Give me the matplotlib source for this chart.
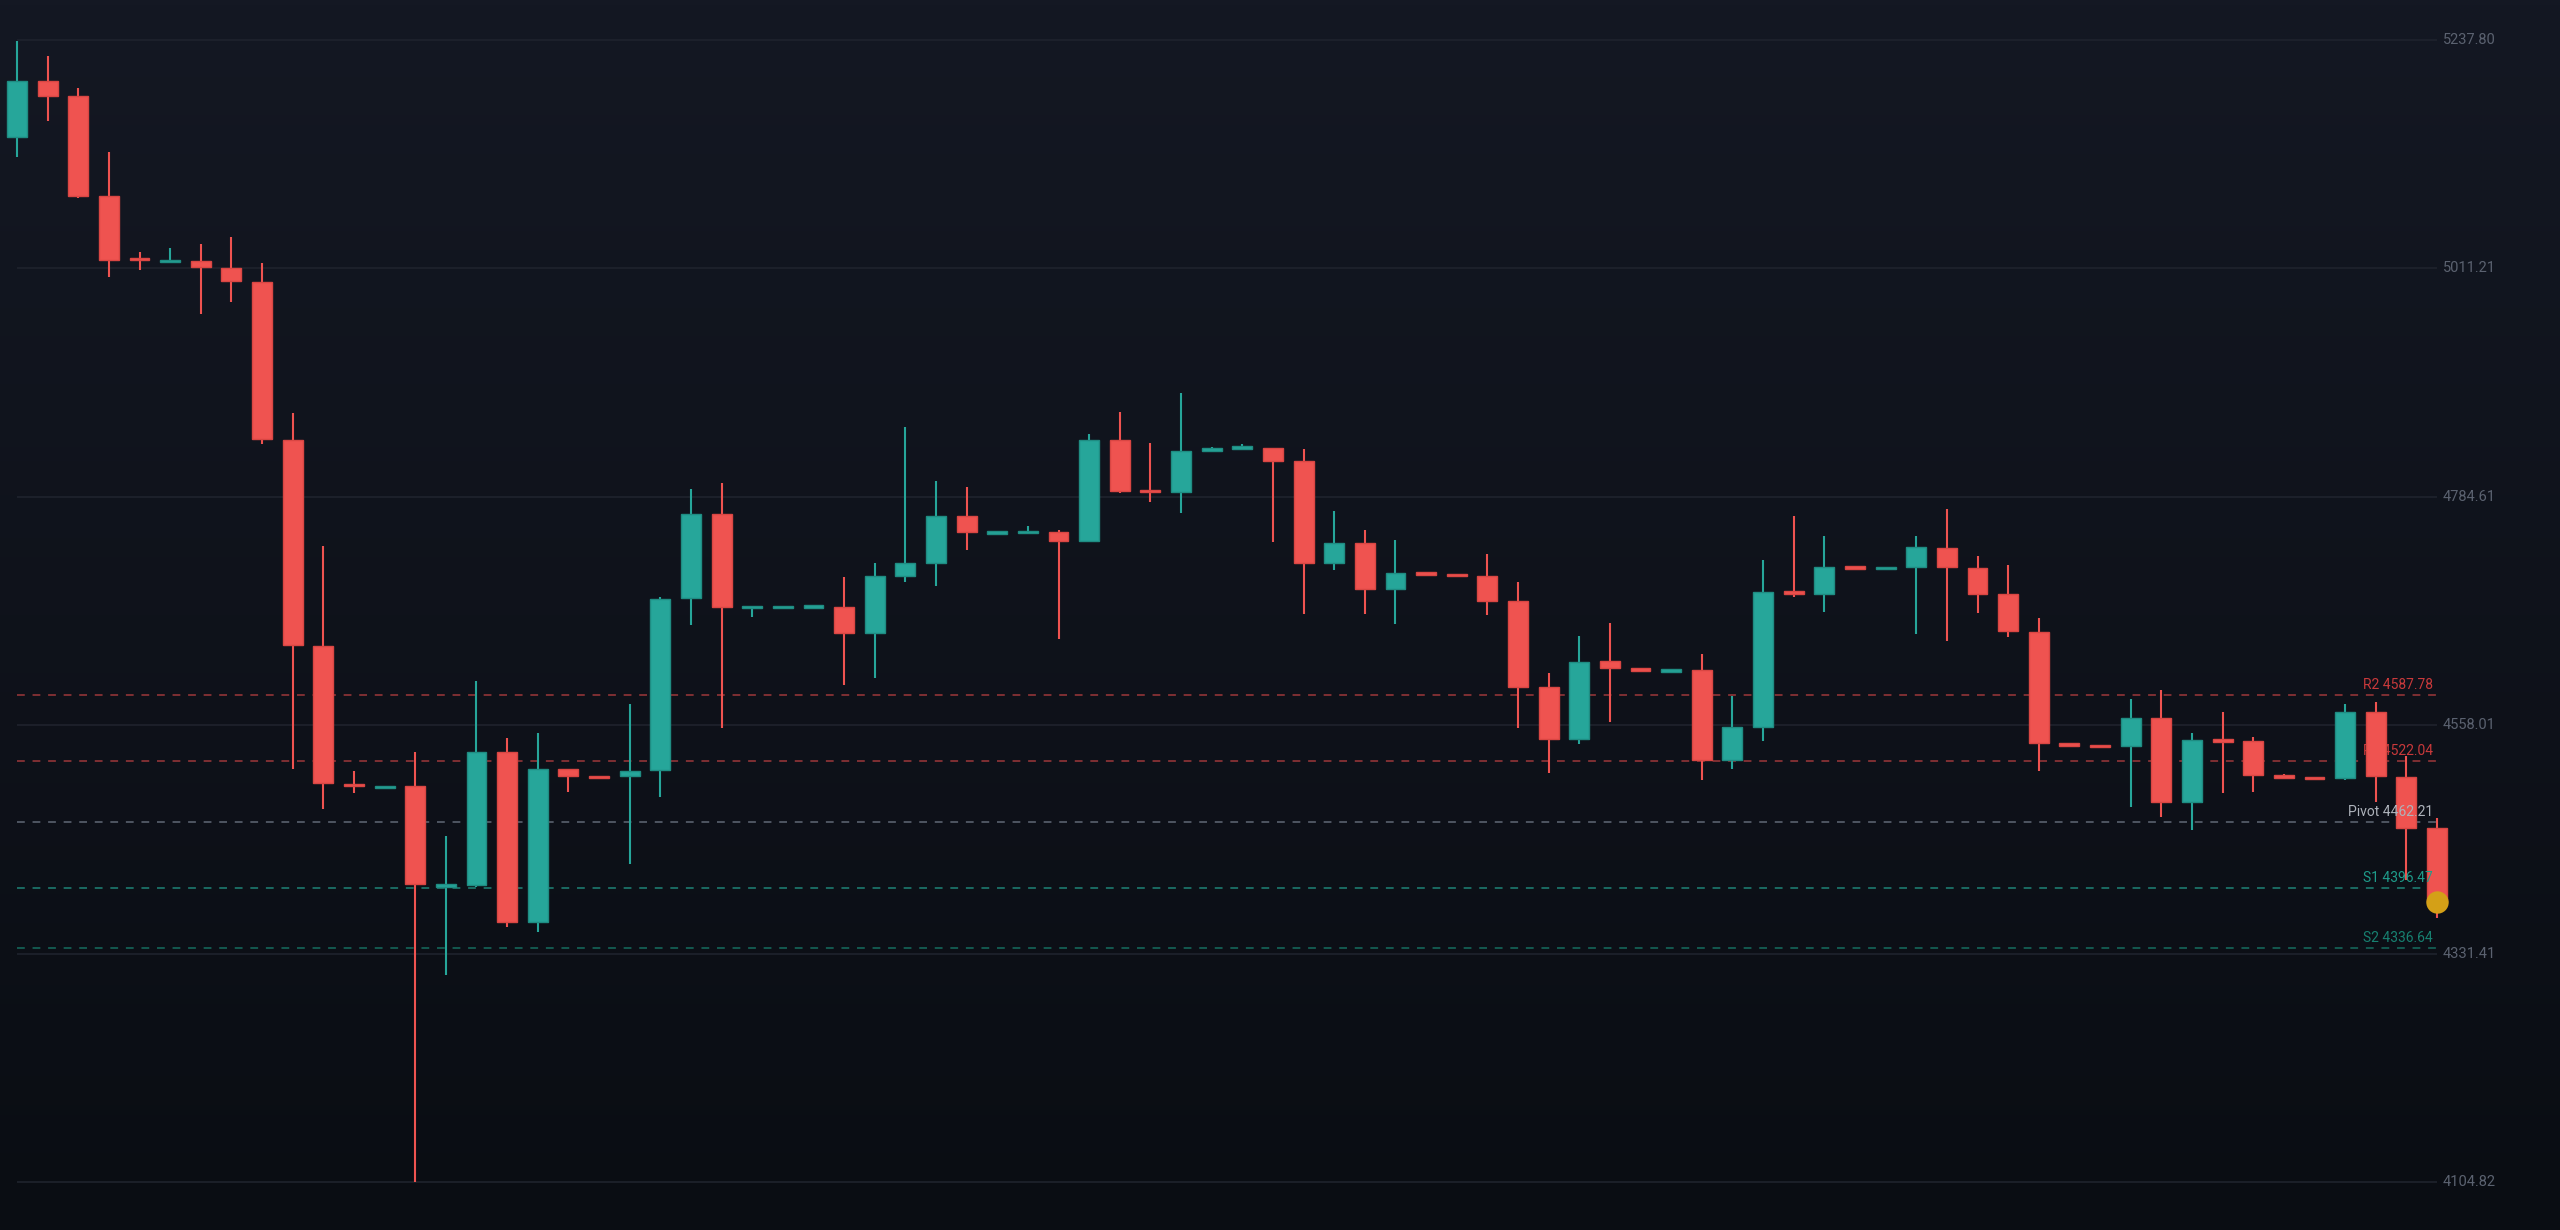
import matplotlib
matplotlib.use("Agg")
import matplotlib.pyplot as plt
import numpy as np
from matplotlib.colors import LinearSegmentedColormap

# candle data (oldest -> newest)
opens = [5141.6, 5197.1, 5182.2, 5082.7, 5021.8, 5018.3, 5018.8, 5011.6, 4997.6, 4841.3,
         4637.0, 4499.5, 4496.6, 4497.4, 4398.5, 4399.8, 4531.2, 4362.6, 4514.3, 4507.2,
         4507.7, 4513.6, 4684.0, 4767.3, 4675.0, 4675.3, 4675.4, 4675.6, 4649.5, 4706.0,
         4719.3, 4765.6, 4749.2, 4749.3, 4749.4, 4740.5, 4840.6, 4790.8, 4789.1, 4830.0,
         4833.5, 4833.3, 4819.8, 4719.3, 4739.1, 4693.2, 4708.7, 4707.5, 4706.3, 4680.9,
         4595.9, 4544.0, 4621.7, 4613.6, 4612.0, 4612.7, 4523.4, 4556.6, 4690.2, 4687.9,
         4715.0, 4713.5, 4715.3, 4734.1, 4714.3, 4687.9, 4650.8, 4539.0, 4537.8, 4537.4,
         4565.5, 4482.2, 4543.3, 4542.4, 4508.0, 4506.2, 4505.6, 4570.8, 4507.0, 4455.8]
highs = [5236.8, 5222.2, 5189.9, 5127.0, 5027.8, 5031.5, 5035.7, 5042.1, 5016.4, 4867.5,
         4735.4, 4512.5, 4497.2, 4531.6, 4448.4, 4601.9, 4545.7, 4550.4, 4514.8, 4507.5,
         4578.6, 4685.0, 4792.0, 4798.1, 4676.0, 4676.0, 4676.0, 4705.0, 4719.0, 4854.2,
         4800.0, 4794.3, 4750.0, 4755.6, 4752.0, 4846.5, 4868.8, 4837.7, 4887.3, 4834.0,
         4836.7, 4833.5, 4832.3, 4770.5, 4752.0, 4741.8, 4709.0, 4707.8, 4727.9, 4700.4,
         4609.5, 4646.2, 4659.4, 4615.0, 4612.9, 4629.0, 4586.7, 4721.9, 4765.3, 4746.0,
         4715.3, 4714.4, 4746.0, 4772.8, 4725.6, 4716.7, 4664.4, 4539.4, 4538.0, 4584.0,
         4592.9, 4550.3, 4570.8, 4546.0, 4509.4, 4506.8, 4579.1, 4580.8, 4527.5, 4465.7]
lows = [5121.7, 5157.4, 5080.7, 5003.0, 5009.9, 5017.8, 4966.3, 4977.9, 4837.3, 4515.0,
        4475.0, 4491.0, 4496.3, 4105.2, 4310.2, 4397.0, 4358.2, 4352.6, 4491.8, 4506.3,
        4420.3, 4486.5, 4657.4, 4555.0, 4665.1, 4675.0, 4675.1, 4597.9, 4604.6, 4700.1,
        4695.8, 4732.2, 4749.0, 4749.0, 4643.2, 4740.0, 4788.1, 4779.5, 4768.6, 4829.5,
        4833.0, 4740.1, 4667.9, 4711.8, 4667.9, 4658.4, 4707.5, 4704.7, 4667.7, 4555.6,
        4511.0, 4539.7, 4561.5, 4612.5, 4611.8, 4503.7, 4514.3, 4542.0, 4684.9, 4670.6,
        4713.8, 4713.3, 4648.8, 4641.3, 4669.3, 4645.2, 4512.3, 4538.0, 4536.5, 4476.9,
        4467.0, 4454.1, 4490.5, 4491.8, 4504.4, 4504.0, 4503.7, 4482.2, 4404.4, 4367.1]
closes = [5197.1, 5182.5, 5082.7, 5019.8, 5019.5, 5018.9, 5012.3, 4998.7, 4841.6, 4637.1,
          4501.0, 4497.8, 4497.0, 4400.2, 4399.3, 4531.2, 4362.6, 4514.3, 4507.7, 4506.5,
          4513.0, 4683.2, 4767.3, 4675.6, 4675.6, 4675.7, 4675.8, 4649.5, 4705.7, 4718.6,
          4765.6, 4749.4, 4749.6, 4749.8, 4740.5, 4840.6, 4790.6, 4789.6, 4829.7, 4833.5,
          4834.0, 4820.1, 4719.3, 4739.1, 4693.2, 4709.0, 4708.0, 4707.0, 4681.6, 4596.2,
          4544.0, 4620.7, 4614.8, 4612.8, 4612.7, 4523.7, 4556.3, 4690.2, 4689.2, 4715.3,
          4714.0, 4714.0, 4734.5, 4715.0, 4688.5, 4651.8, 4540.4, 4538.4, 4536.8, 4565.5,
          4481.5, 4543.4, 4542.5, 4508.6, 4506.7, 4504.6, 4570.8, 4507.3, 4456.1, 4382.9]

price_ticks = [5237.80, 5011.21, 4784.61, 4558.01, 4331.41, 4104.82]

level_names = ["R2", "R1", "Pivot", "S1", "S2"]
level_values = [4587.78, 4522.04, 4462.21, 4396.47, 4336.64]
level_line_colors = ["#7f2f33", "#7f2f33", "#4e5562", "#1b6b63", "#14584f"]
level_text_colors = ["#c8393b", "#c8393b", "#aeb3bb", "#1e9c8a", "#178070"]
level_text_z = [6, 2, 6, 6, 6]   # R1 label sits behind the candles in the reference

UP = "#26a69a"
DOWN = "#ef5350"

n = len(opens)
xs = np.arange(n)

fig = plt.figure(figsize=(25.6, 12.3), dpi=100)
ax = fig.add_axes([0, 0, 1, 1])

# pixel mapping: candle 0 at x=17px, candle 79 at x=2437px
px_per_bar = (2437 - 17) / (n - 1)
x_left = -17 / px_per_bar
x_right = x_left + 2560 / px_per_bar
px_per_price = (1182 - 40) / (price_ticks[0] - price_ticks[-1])
y_top = price_ticks[0] + 40 / px_per_price
y_bot = y_top - 1230 / px_per_price
ax.set_xlim(x_left, x_right)
ax.set_ylim(y_bot, y_top)
ax.axis("off")

# background gradient
bg = LinearSegmentedColormap.from_list("bg", ["#0a0d13", "#141823"])
grad = np.linspace(0, 1, 256).reshape(-1, 1)
ax.imshow(grad, cmap=bg, origin="lower", aspect="auto",
          extent=[x_left, x_right, y_bot, y_top], zorder=0)

# horizontal grid + price labels
for p in price_ticks:
    ax.hlines(p, 0, n - 1, color="#1f232d", lw=1.2, zorder=1)
    ax.text(n - 1 + 6 / px_per_bar, p, f"{p:.2f}", color="#5b6270",
            fontsize=10.5, family="Roboto", ha="left", va="center", zorder=1)

# pivot levels
for name, val, lc, tc, z in zip(level_names, level_values, level_line_colors,
                                level_text_colors, level_text_z):
    ax.hlines(val, 0, n - 1, color=lc, lw=1.4, linestyles=(0, (4, 4)), zorder=1.5)
    ax.text(n - 1 - 4 / px_per_bar, val + 3 / px_per_price, f"{name} {val:.2f}",
            color=tc, fontsize=10, family="Roboto", ha="right", va="bottom", zorder=z)

# candles
for i in range(n):
    o, h, l, c = opens[i], highs[i], lows[i], closes[i]
    col = UP if c >= o else DOWN
    edge = "#1f8c82" if c >= o else "#d94643"
    ax.vlines(xs[i], l, h, color=col, lw=1.5, zorder=3)
    lo = min(o, c)
    hgt = max(abs(c - o), 2.5)
    ax.bar(xs[i], hgt, bottom=lo - (hgt - abs(c - o)) / 2, width=0.65,
           color=col, edgecolor=edge, linewidth=1, zorder=4)

# last price marker
ax.scatter([xs[-1]], [closes[-1]], s=260, color="#d4a017", zorder=7, linewidths=0)

fig.savefig("out.png", dpi=100)
